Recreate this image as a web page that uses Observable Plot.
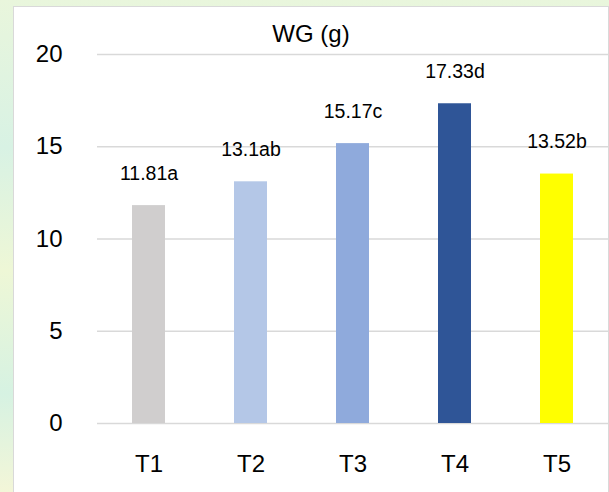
<!DOCTYPE html>
<html>
<head>
<meta charset="utf-8">
<script src="https://cdn.jsdelivr.net/npm/d3@7"></script>
<script src="https://cdn.jsdelivr.net/npm/@observablehq/plot@0.6"></script>
<style>
  html, body { margin: 0; padding: 0; }
  body {
    width: 609px; height: 492px; overflow: hidden; position: relative;
    background: linear-gradient(180deg, #e9f6dc 0%, #d8f2e4 30%, #eef7d6 55%, #d6f2e2 80%, #f3f6d8 100%);
    font-family: "Liberation Sans", Arial, sans-serif;
  }
  #box {
    position: absolute; left: 13px; top: 6px; width: 594px; height: 486px;
    background: #fff; border: 1px solid #d9d9d9;
  }
  #title {
    position: absolute; left: 0; top: 0; width: 594px; height: 28px;
    text-align: center; font-size: 24px; line-height: 28px; color: #000;
    padding-top: 13px; z-index: 2;
  }
  #chart { position: absolute; left: 0; top: 30px; }
  #chart svg { overflow: visible; }
</style>
</head>
<body>
<div id="box">
  <div id="title">WG (g)</div>
  <div id="chart"></div>
</div>
<script>
const treatments = ["T1", "T2", "T3", "T4", "T5"];
const wg = [11.81, 13.1, 15.17, 17.33, 13.52];
const letters = ["11.81a", "13.1ab", "15.17c", "17.33d", "13.52b"];
const colors = ["#d0cece", "#b4c7e7", "#8faadc", "#2f5597", "#ffff00"];
const yTicks = [0, 5, 10, 15, 20];

const data = treatments.map((t, i) => ({t, v: wg[i], label: letters[i], c: colors[i]}));

const chart = Plot.plot({
  width: 594,
  height: 456,
  marginLeft: 83,
  marginRight: 0,
  marginTop: 17,
  marginBottom: 70,
  style: {fontFamily: "'Liberation Sans', Arial, sans-serif", fontSize: "24px", color: "#000", background: "transparent"},
  x: {domain: treatments, paddingInner: 0.68, paddingOuter: 0.34, label: null},
  y: {domain: [0, 20], ticks: yTicks, label: null},
  marks: [
    Plot.ruleY(yTicks, {stroke: "#d9d9d9", strokeWidth: 1.3}),
    Plot.barY(data, {x: "t", y: "v", fill: "c"}),
    Plot.text(data, {x: "t", y: "v", text: "label", lineAnchor: "bottom", dy: -26, fontSize: 19.5, fill: "#000"}),
    Plot.axisY({ticks: yTicks, tickSize: 0, tickPadding: 35, fontSize: 24, label: null}),
    Plot.axisX({tickSize: 0, tickPadding: 31, fontSize: 24, label: null})
  ]
});
document.getElementById("chart").appendChild(chart);
</script>
</body>
</html>
